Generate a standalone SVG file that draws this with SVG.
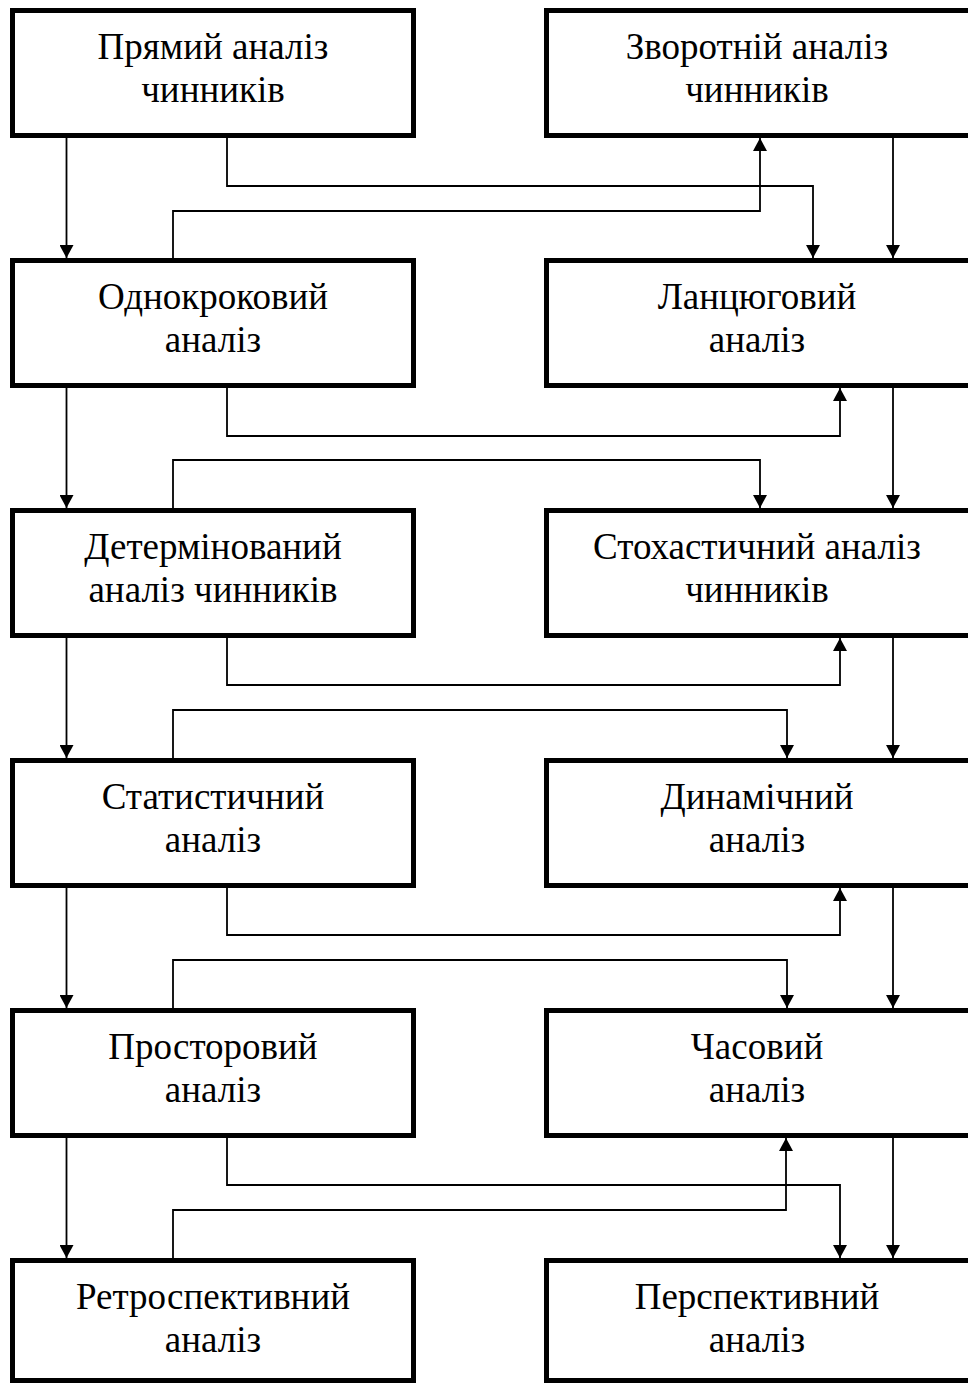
<svg xmlns="http://www.w3.org/2000/svg" width="968" height="1383" viewBox="0 0 968 1383">
<defs>
<style>
.box{fill:#fff;stroke:#000;stroke-width:5}
.t{font-family:"Liberation Serif","Times New Roman",serif;font-size:37px;fill:#000;text-anchor:middle}
.c{fill:none;stroke:#000;stroke-width:1.8}
</style>
<marker id="ah" markerUnits="userSpaceOnUse" markerWidth="14" markerHeight="14" refX="13" refY="7" orient="auto">
<path d="M0,0 L13,7 L0,14 z" fill="#000"/>
</marker>
</defs>
<rect width="968" height="1383" fill="#fff"/>
<g id="connectors">
<path class="c" marker-end="url(#ah)" d="M66.5,138 V258"/>
<path class="c" marker-end="url(#ah)" d="M66.5,388 V508"/>
<path class="c" marker-end="url(#ah)" d="M66.5,638 V758"/>
<path class="c" marker-end="url(#ah)" d="M66.5,888 V1008"/>
<path class="c" marker-end="url(#ah)" d="M66.5,1138 V1258"/>
<path class="c" marker-end="url(#ah)" d="M893,138 V258"/>
<path class="c" marker-end="url(#ah)" d="M893,388 V508"/>
<path class="c" marker-end="url(#ah)" d="M893,638 V758"/>
<path class="c" marker-end="url(#ah)" d="M893,888 V1008"/>
<path class="c" marker-end="url(#ah)" d="M893,1138 V1258"/>
<path class="c" marker-end="url(#ah)" d="M227,138 V186 H813 V258"/>
<path class="c" marker-end="url(#ah)" d="M173,258 V211 H760 V138"/>
<path class="c" marker-end="url(#ah)" d="M227,388 V436 H840 V388"/>
<path class="c" marker-end="url(#ah)" d="M173,508 V460 H760 V508"/>
<path class="c" marker-end="url(#ah)" d="M227,638 V685 H840 V638"/>
<path class="c" marker-end="url(#ah)" d="M173,758 V710 H787 V758"/>
<path class="c" marker-end="url(#ah)" d="M227,888 V935 H840 V888"/>
<path class="c" marker-end="url(#ah)" d="M173,1008 V960 H787 V1008"/>
<path class="c" marker-end="url(#ah)" d="M227,1138 V1185 H840 V1258"/>
<path class="c" marker-end="url(#ah)" d="M173,1258 V1210 H786 V1138"/>
</g>
<g id="n1"><rect class="box" x="12.5" y="10.5" width="401" height="125"/><text class="t" x="213" y="59">Прямий аналіз</text><text class="t" x="213" y="102">чинників</text></g>
<g id="n2"><rect class="box" x="546.5" y="10.5" width="424" height="125"/><text class="t" x="757" y="59">Зворотній аналіз</text><text class="t" x="757" y="102">чинників</text></g>
<g id="n3"><rect class="box" x="12.5" y="260.5" width="401" height="125"/><text class="t" x="213" y="309">Однокроковий</text><text class="t" x="213" y="352">аналіз</text></g>
<g id="n4"><rect class="box" x="546.5" y="260.5" width="424" height="125"/><text class="t" x="757" y="309">Ланцюговий</text><text class="t" x="757" y="352">аналіз</text></g>
<g id="n5"><rect class="box" x="12.5" y="510.5" width="401" height="125"/><text class="t" x="213" y="559">Детермінований</text><text class="t" x="213" y="602">аналіз чинників</text></g>
<g id="n6"><rect class="box" x="546.5" y="510.5" width="424" height="125"/><text class="t" x="757" y="559">Стохастичний аналіз</text><text class="t" x="757" y="602">чинників</text></g>
<g id="n7"><rect class="box" x="12.5" y="760.5" width="401" height="125"/><text class="t" x="213" y="809">Статистичний</text><text class="t" x="213" y="852">аналіз</text></g>
<g id="n8"><rect class="box" x="546.5" y="760.5" width="424" height="125"/><text class="t" x="757" y="809">Динамічний</text><text class="t" x="757" y="852">аналіз</text></g>
<g id="n9"><rect class="box" x="12.5" y="1010.5" width="401" height="125"/><text class="t" x="213" y="1059">Просторовий</text><text class="t" x="213" y="1102">аналіз</text></g>
<g id="n10"><rect class="box" x="546.5" y="1010.5" width="424" height="125"/><text class="t" x="757" y="1059">Часовий</text><text class="t" x="757" y="1102">аналіз</text></g>
<g id="n11"><rect class="box" x="12.5" y="1260.5" width="401" height="120"/><text class="t" x="213" y="1309">Ретроспективний</text><text class="t" x="213" y="1352">аналіз</text></g>
<g id="n12"><rect class="box" x="546.5" y="1260.5" width="424" height="120"/><text class="t" x="757" y="1309">Перспективний</text><text class="t" x="757" y="1352">аналіз</text></g>
</svg>
